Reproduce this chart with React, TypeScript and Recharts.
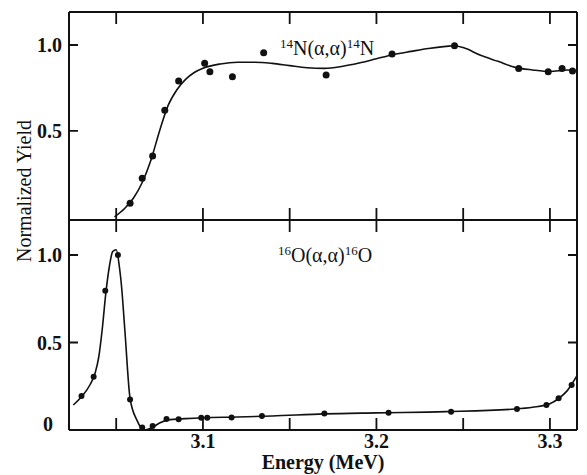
import React from 'react';
import { ComposedChart, Line, Scatter, XAxis, YAxis } from 'recharts';

// measured points, 14N(a,a)14N
const nEnergy = [3.058, 3.065, 3.071, 3.078, 3.086, 3.101, 3.104, 3.117, 3.135, 3.171, 3.209, 3.245, 3.282, 3.299, 3.307, 3.313];
const nYield = [0.08, 0.225, 0.355, 0.62, 0.79, 0.894, 0.845, 0.816, 0.955, 0.826, 0.948, 0.996, 0.864, 0.845, 0.864, 0.849];

// fitted curve, 14N
const nFitEnergy = [3.049, 3.055, 3.06, 3.065, 3.07, 3.075, 3.08, 3.085, 3.09, 3.095, 3.1, 3.11, 3.12, 3.13, 3.14, 3.15, 3.16, 3.17, 3.18, 3.19, 3.2, 3.21, 3.22, 3.23, 3.24, 3.245, 3.25, 3.26, 3.27, 3.28, 3.29, 3.3, 3.31, 3.3156];
const nFitYield = [0.0, 0.05, 0.11, 0.2, 0.33, 0.5, 0.65, 0.74, 0.8, 0.84, 0.865, 0.89, 0.9, 0.9, 0.893, 0.88, 0.868, 0.864, 0.875, 0.895, 0.92, 0.945, 0.963, 0.98, 0.992, 0.996, 0.985, 0.94, 0.905, 0.87, 0.855, 0.846, 0.855, 0.85];

// measured points, 16O(a,a)16O
const oEnergy = [3.030, 3.037, 3.0437, 3.051, 3.058, 3.065, 3.071, 3.079, 3.086, 3.099, 3.1025, 3.1165, 3.134, 3.170, 3.207, 3.243, 3.281, 3.298, 3.305, 3.3125];
const oYield = [0.194, 0.305, 0.796, 1.0, 0.175, 0.015, 0.023, 0.063, 0.061, 0.07, 0.07, 0.072, 0.08, 0.095, 0.099, 0.105, 0.12, 0.143, 0.181, 0.257];

// fitted curve, 16O
const oFitEnergy = [3.0253, 3.03, 3.035, 3.038, 3.04, 3.042, 3.044, 3.046, 3.048, 3.05, 3.052, 3.053, 3.055, 3.058, 3.062, 3.066, 3.07, 3.075, 3.08, 3.09, 3.1, 3.12, 3.14, 3.17, 3.2, 3.24, 3.28, 3.29, 3.3, 3.305, 3.31, 3.3156];
const oFitYield = [0.143, 0.19, 0.26, 0.33, 0.42, 0.58, 0.78, 0.93, 1.02, 1.03, 0.92, 0.83, 0.57, 0.18, 0.055, 0.0, 0.01, 0.04, 0.058, 0.065, 0.07, 0.074, 0.08, 0.092, 0.098, 0.105, 0.12, 0.13, 0.15, 0.18, 0.225, 0.31];

const xTicks = [3.05, 3.1, 3.15, 3.2, 3.25, 3.3];
const xLabels = [3.1, 3.2, 3.3];
const yTicksTop = [0.5, 1.0];
const yTicksBottom = [0, 0.5, 1.0];

const X_DOMAIN: [number, number] = [3.0228, 3.3156];
const TOP_DOMAIN: [number, number] = [-0.018, 1.192];
const BOTTOM_DOMAIN: [number, number] = [0, 1.2];

const toRows = (xs: number[], ys: number[]) => xs.map((e, i) => ({ e, y: ys[i] }));

const FONT = '"Liberation Serif", "Times New Roman", serif';
const INK = '#111';
const frameLine = { stroke: INK, strokeWidth: 2 };
const PLOT_W = 508;
const X_TICK_PX = 12;
const Y_TICK_PX = 9;

const Dot = (r: number) => (props: any) => <circle cx={props.cx} cy={props.cy} r={r} fill={INK} />;

// inward frame ticks as short broken line segments (null rows split them)
const frameTickRows = (yDomain: [number, number], plotH: number, yTicks: number[]) => {
  const [x0, x1] = X_DOMAIN;
  const [y0, y1] = yDomain;
  const dy = ((y1 - y0) / plotH) * X_TICK_PX;
  const dx = ((x1 - x0) / PLOT_W) * Y_TICK_PX;
  const rows: { e: number; y: number | null }[] = [];
  xTicks.forEach((t) => {
    rows.push({ e: t, y: y0 }, { e: t, y: y0 + dy }, { e: t, y: null });
    rows.push({ e: t, y: y1 }, { e: t, y: y1 - dy }, { e: t, y: null });
  });
  yTicks.filter((t) => t > 0).forEach((t) => {
    rows.push({ e: x0, y: t }, { e: x0 + dx, y: t }, { e: x0, y: null });
    rows.push({ e: x1, y: t }, { e: x1 - dx, y: t }, { e: x1, y: null });
  });
  return rows;
};

const BottomLabel = (withLabels: boolean) => (props: any) => {
  const { x, y, payload } = props;
  const v = payload.value;
  if (!withLabels || !xLabels.includes(v)) return <g />;
  return (
    <text x={x} y={y + 18} textAnchor="middle" fontFamily={FONT} fontSize={20} fontWeight="bold" fill={INK}>
      {v.toFixed(1)}
    </text>
  );
};

const LeftLabel = (props: any) => {
  const { x, y, payload } = props;
  const v = payload.value;
  if (v === 0) {
    return (
      <text x={x - 14} y={y - 6} textAnchor="middle" dominantBaseline="central" fontFamily={FONT} fontSize={20} fontWeight="bold" fill={INK}>
        0
      </text>
    );
  }
  return (
    <text x={x} y={y} textAnchor="end" dominantBaseline="central" fontFamily={FONT} fontSize={20} fontWeight="bold" fill={INK}>
      {v.toFixed(1)}
    </text>
  );
};

const Panel = ({ height, topH, bottomH, yDomain, yTicks, fit, pts, dotR, labels }: any) => {
  const plotH = height - topH - bottomH;
  return (
    <ComposedChart width={587} height={height} margin={{ top: 0, right: 0, bottom: 0, left: 0 }}>
      <XAxis xAxisId="t" type="number" dataKey="e" domain={X_DOMAIN} ticks={xTicks} allowDataOverflow interval={0}
        orientation="top" height={topH} tickSize={0} tickMargin={0} tickLine={false} axisLine={frameLine} tick={false} />
      <XAxis xAxisId="b" type="number" dataKey="e" domain={X_DOMAIN} ticks={xTicks} allowDataOverflow interval={0}
        orientation="bottom" height={bottomH} tickSize={0} tickMargin={0} tickLine={false} axisLine={frameLine}
        tick={BottomLabel(labels)} />
      <YAxis yAxisId="l" type="number" dataKey="y" domain={yDomain} ticks={yTicks} allowDataOverflow interval={0}
        width={69} tickSize={0} tickMargin={7} tickLine={false} axisLine={frameLine} tick={LeftLabel} />
      <YAxis yAxisId="r" type="number" dataKey="y" domain={yDomain} ticks={yTicks} allowDataOverflow interval={0}
        orientation="right" width={10} tickSize={0} tickMargin={0} tickLine={false} axisLine={frameLine} tick={false} />
      <Line xAxisId="b" yAxisId="l" data={frameTickRows(yDomain, plotH, yTicks)} dataKey="y" type="linear"
        stroke={INK} strokeWidth={1.8} dot={false} activeDot={false} connectNulls={false} isAnimationActive={false} />
      <Line xAxisId="b" yAxisId="l" data={fit} dataKey="y" type="monotone" stroke={INK} strokeWidth={1.6}
        dot={false} activeDot={false} isAnimationActive={false} />
      <Scatter xAxisId="b" yAxisId="l" data={pts} dataKey="y" shape={Dot(dotR)} isAnimationActive={false} />
    </ComposedChart>
  );
};

const App = () => {
  const textStyle: React.CSSProperties = { position: 'absolute', fontFamily: FONT, fontSize: 20, lineHeight: '20px', color: INK, whiteSpace: 'nowrap' };
  const sup: React.CSSProperties = { fontSize: 13, verticalAlign: '7px' };
  return (
    <div style={{ position: 'absolute', left: 0, top: 0, width: 587, height: 475, background: '#fff', overflow: 'hidden' }}>
      <div style={{ position: 'absolute', left: 0, top: 0 }}>
        <Panel height={221} topH={12} bottomH={1} yDomain={TOP_DOMAIN} yTicks={yTicksTop}
          fit={toRows(nFitEnergy, nFitYield)} pts={toRows(nEnergy, nYield)} dotR={3.5} labels={false} />
      </div>
      <div style={{ position: 'absolute', left: 0, top: 219 }}>
        <Panel height={256} topH={1} bottomH={45} yDomain={BOTTOM_DOMAIN} yTicks={yTicksBottom}
          fit={toRows(oFitEnergy, oFitYield)} pts={toRows(oEnergy, oYield)} dotR={3} labels />
      </div>
      <div style={{ ...textStyle, left: 280, top: 34 }}>
        <span style={sup}>14</span>N(α,α)<span style={sup}>14</span>N
      </div>
      <div style={{ ...textStyle, left: 278, top: 241 }}>
        <span style={sup}>16</span>O(α,α)<span style={sup}>16</span>O
      </div>
      <div style={{ ...textStyle, left: 69, width: 508, top: 452, textAlign: 'center', fontWeight: 'bold' }}>Energy (MeV)</div>
      <div style={{ ...textStyle, left: 24, top: 191, transform: 'translate(-50%, -50%) rotate(-90deg)' }}>Normalized Yield</div>
    </div>
  );
};

export default App;
